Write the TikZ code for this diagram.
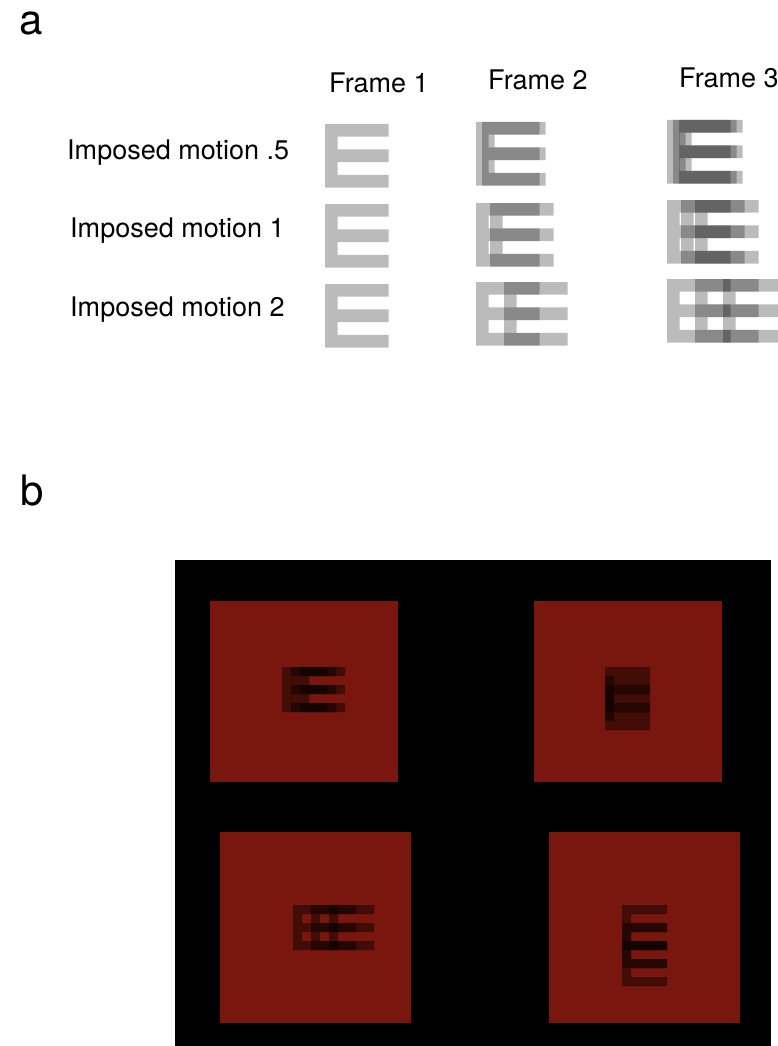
\documentclass[tikz,border=0pt]{standalone}
\usepackage{fontspec}
\setmainfont{TeX Gyre Heros}
\definecolor{redsq}{RGB}{121,22,13}
\newcommand{\drawE}[4]{%
  \fill[#4] ({#1},{#2}) -- ++({5*#3},0) -- ++(0,{#3}) -- ++({-4*#3},0) -- ++(0,{#3}) -- ++({4*#3},0) -- ++(0,{#3}) -- ++({-4*#3},0) -- ++(0,{#3}) -- ++({4*#3},0) -- ++(0,{#3}) -- ++({-5*#3},0) -- cycle;}
\begin{document}
\begin{tikzpicture}[x=1pt,y=-1pt,
  lbl/.style={font=\fontsize{27}{32}\selectfont, inner sep=0pt, anchor=base west},
  panel/.style={font=\fontsize{42}{48}\selectfont, inner sep=0pt, anchor=base west},
  ea/.style={fill=black, fill opacity=0.267},
  eb/.style={fill=black, fill opacity=0.45}]
\useasboundingbox (0,0) rectangle (778,1046);
\clip (0,0) rectangle (778,1046);
% panel labels
\node[panel] (pa) at (19,35) {a};
\node[panel] (pb) at (20,505) {b};
% column headers
\node[lbl] (f1) at (329,93) {Frame 1};
\node[lbl] (f2) at (488,90) {Frame 2};
\node[lbl] (f3) at (679,88) {Frame 3};
% row labels
\node[lbl] (r1) at (67,159) {Imposed motion .5};
\node[lbl] (r2) at (70,237) {Imposed motion 1};
\node[lbl] (r3) at (70,316) {Imposed motion 2};
% Frame 1
\drawE{325}{124}{12.7}{ea}
\drawE{325}{204}{12.7}{ea}
\drawE{325}{284}{12.7}{ea}
% Frame 2
\foreach \k in {0,1}{\drawE{476+\k*6}{122}{12.7}{ea}}
\foreach \k in {0,1}{\drawE{476+\k*14}{203}{12.7}{ea}}
\foreach \k in {0,1}{\drawE{476+\k*28}{282}{12.7}{ea}}
% Frame 3
\foreach \k in {0,1,2}{\drawE{667+\k*6}{120}{12.7}{ea}}
\foreach \k in {0,1,2}{\drawE{667+\k*14}{200}{12.7}{ea}}
\foreach \k in {0,1,2}{\drawE{667+\k*28}{279}{12.7}{ea}}
% panel b
\fill[black] (175,560) rectangle (771,1046);
\fill[redsq] (210,601) rectangle (398,782);
\fill[redsq] (534,601) rectangle (722,782);
\fill[redsq] (220,832) rectangle (411,1023);
\fill[redsq] (549,832) rectangle (740,1023);
\foreach \k in {0,1,2}{\drawE{282+\k*9}{667}{9}{eb}}
\foreach \k in {0,1,2}{\drawE{605}{667+\k*9}{9}{eb}}
\foreach \k in {0,1,2}{\drawE{293+\k*18}{905}{9}{eb}}
\foreach \k in {0,1,2}{\drawE{622}{905+\k*18}{9}{eb}}
\end{tikzpicture}
\end{document}
